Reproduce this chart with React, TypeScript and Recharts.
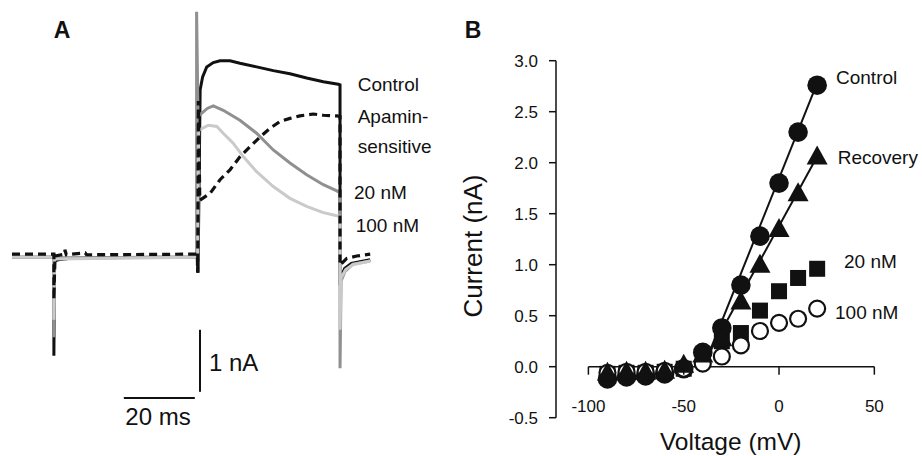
import { LineChart, ComposedChart, Line, Scatter, XAxis, YAxis, ReferenceLine } from "recharts";

const FONT = "'Liberation Sans', Arial, Helvetica, sans-serif";

// ---- Panel A: current traces, [time (ms), current (nA)] ----
const controlTrace: [number, number][] = [
  [0, -0.02], [11.8, -0.02], [11.8, -1.61], [12.0, -0.08], [13, -0.06], [16, -0.04], [25, -0.03],
  [40, -0.02], [52.3, -0.02], [52.4, -0.27], [53.0, 2.68], [53.7, 2.89], [54.85, 3.05], [56.7, 3.12],
  [58.6, 3.15], [61.4, 3.15], [64.2, 3.11], [68.9, 3.05], [73.6, 2.99], [78.3, 2.94], [83.0, 2.87],
  [87.7, 2.81], [91.9, 2.77], [92.4, 2.76], [92.4, -0.47], [92.7, -0.34], [93.7, -0.2], [95.6, -0.12],
  [100.9, -0.06],
];
const trace20nM: [number, number][] = [
  [0, -0.02], [11.8, -0.02], [11.8, -1.31], [12.0, -0.05], [14, -0.03], [52.0, -0.02], [52.0, 3.94],
  [52.4, 2.25], [53.4, 2.3], [55, 2.38], [56.7, 2.42], [59.5, 2.35], [64.2, 2.19], [68.9, 1.98],
  [73.6, 1.71], [78.3, 1.5], [83.0, 1.31], [87.7, 1.15], [91.5, 1.05], [92.4, 1.02], [92.4, -1.81],
  [92.7, -0.4], [93.8, -0.25], [96, -0.13], [100.9, -0.08],
];
const trace100nM: [number, number][] = [
  [0, -0.02], [11.8, -0.02], [11.8, -1.03], [12.0, -0.05], [52.3, -0.02], [52.6, 2.03], [55.3, 2.11],
  [57.7, 2.09], [59.5, 1.98], [62.3, 1.82], [65.2, 1.6], [68.9, 1.36], [73.6, 1.12], [78.3, 0.93],
  [83.0, 0.8], [87.7, 0.7], [91.5, 0.65], [92.4, 0.64], [92.4, -1.19], [92.7, -0.35], [94, -0.22],
  [96, -0.14], [100.9, -0.08],
];
const apaminTrace: [number, number][] = [
  [0, 0.03], [11.8, 0.03], [11.8, -0.7], [12.1, 0.0], [14.9, 0.03], [14.9, 0.1], [15.3, 0.02],
  [20.6, 0.05], [21, 0.02], [52.2, 0.03], [52.3, -0.27], [52.5, 2.5], [52.9, 0.9], [55.8, 1.01],
  [58.6, 1.23], [61.4, 1.39], [64.2, 1.6], [67.0, 1.76], [69.9, 1.92], [72.7, 2.06], [75.5, 2.17],
  [78.3, 2.22], [81.1, 2.26], [84.9, 2.29], [87.7, 2.27], [91.5, 2.26], [92.4, 2.25], [92.4, -0.15],
  [92.9, -0.12], [94.3, -0.04], [97.1, 0.0], [100.9, 0.03],
];

// ---- Panel B: I-V relation ----
const voltages = [-90, -80, -70, -60, -50, -40, -30, -20, -10, 0, 10, 20];
const controlI = [-0.12, -0.1, -0.09, -0.07, -0.02, 0.14, 0.38, 0.8, 1.28, 1.8, 2.3, 2.76];
const recoveryI = [-0.06, -0.05, -0.05, -0.04, 0.02, 0.12, 0.28, 0.64, 1.0, 1.35, 1.7, 2.06];
const apamin20I = [-0.07, -0.06, -0.06, -0.05, -0.02, 0.12, 0.25, 0.33, 0.55, 0.74, 0.87, 0.96];
const apamin100I = [-0.06, -0.05, -0.05, -0.04, -0.02, 0.03, 0.1, 0.21, 0.35, 0.43, 0.47, 0.57];
const controlFit: [number, number][] = [[-37, 0.12], [20, 2.78]];
const recoveryFit: [number, number][] = [[-37, 0.12], [20, 2.06]];
const xTicks = [-100, -50, 0, 50];
const yTicks = [-0.5, 0, 0.5, 1, 1.5, 2, 2.5, 3];

const pts = (arr: [number, number][]) => arr.map(([t, i]) => ({ t, i }));
const iv = (vals: number[]) => voltages.map((v, k) => ({ v, i: vals[k] }));
const fit = (arr: [number, number][]) => arr.map(([v, i]) => ({ v, i }));

// panel B plot geometry
const B_W = 462, B_H = 456, B_TOP = 60.7, B_AXIS_H = 38.3;
const B_BOTTOM = B_H - B_AXIS_H;
const zeroY = B_TOP + (B_BOTTOM - B_TOP) * (3.0 / 3.5);

const XTick = (props: any) => {
  const { x, payload } = props;
  return (
    <g>
      <line x1={x} x2={x} y1={zeroY} y2={zeroY + 8} stroke="#111" strokeWidth={1.5} />
      <text x={x} y={B_BOTTOM - 11} textAnchor="middle" dominantBaseline="central"
        fontSize={17} fontFamily={FONT} fill="#111">{payload.value}</text>
    </g>
  );
};

const FilledCircle = (p: any) => <circle cx={p.cx} cy={p.cy} r={9.8} fill="#111" />;
const OpenCircle = (p: any) => <circle cx={p.cx} cy={p.cy} r={8} fill="#fff" stroke="#111" strokeWidth={2.2} />;
const Square = (p: any) => <rect x={p.cx - 8} y={p.cy - 8} width={16} height={16} fill="#111" />;
const Triangle = (p: any) => (
  <polygon points={`${p.cx},${p.cy - 11} ${p.cx + 10.5},${p.cy + 8} ${p.cx - 10.5},${p.cy + 8}`} fill="#111" />
);

const txt = { fontFamily: FONT, fill: "#111" };

export default function App() {
  return (
    <div style={{ position: "absolute", left: 0, top: 0, width: 922, height: 456, background: "#fff" }}>
      <div style={{ position: "absolute", left: 0, top: 0 }}>
        <LineChart width={400} height={456} margin={{ top: 8, right: 25.9, bottom: 45, left: 12 }}>
          <XAxis type="number" dataKey="t" domain={[0, 102]} hide allowDataOverflow />
          <YAxis type="number" dataKey="i" domain={[-2.5, 4]} hide allowDataOverflow />
          <Line data={pts(controlTrace)} dataKey="i" type="linear" stroke="#111" strokeWidth={3}
            dot={false} isAnimationActive={false} />
          <Line data={pts(trace20nM)} dataKey="i" type="linear" stroke="#909090" strokeWidth={3}
            dot={false} isAnimationActive={false} />
          <Line data={pts(trace100nM)} dataKey="i" type="linear" stroke="#cacaca" strokeWidth={3}
            dot={false} isAnimationActive={false} />
          <Line data={pts(apaminTrace)} dataKey="i" type="linear" stroke="#111" strokeWidth={3.2}
            strokeDasharray="8 5" dot={false} isAnimationActive={false} />
          <ReferenceLine segment={[{ x: 31.5, y: -2.29 }, { x: 51.5, y: -2.29 }]} stroke="#111" strokeWidth={2} ifOverflow="visible" />
          <ReferenceLine segment={[{ x: 52.96, y: -1.19 }, { x: 52.96, y: -2.19 }]} stroke="#111" strokeWidth={2} ifOverflow="visible" />
        </LineChart>
      </div>

      <div style={{ position: "absolute", left: 460, top: 0 }}>
        <ComposedChart width={B_W} height={B_H} margin={{ top: B_TOP, right: 28.6, bottom: 0, left: 0 }}>
          <XAxis type="number" dataKey="v" domain={[-117, 60]} ticks={xTicks} height={B_AXIS_H}
            axisLine={false} tickLine={false} tick={<XTick />} interval={0} allowDataOverflow />
          <YAxis type="number" dataKey="i" domain={[-0.5, 3]} ticks={yTicks} width={96} interval={0}
            tickFormatter={(v: number) => v.toFixed(1)} tickSize={7} tickMargin={11}
            axisLine={{ stroke: "#111", strokeWidth: 1.5 }} tickLine={{ stroke: "#111", strokeWidth: 1.5 }}
            tick={{ fill: "#111", fontSize: 17, fontFamily: FONT }} allowDataOverflow />
          <ReferenceLine segment={[{ x: -100, y: 0 }, { x: 50, y: 0 }]} stroke="#111" strokeWidth={1.5} />
          <Line data={fit(controlFit)} dataKey="i" type="linear" stroke="#111" strokeWidth={2}
            dot={false} isAnimationActive={false} />
          <Line data={fit(recoveryFit)} dataKey="i" type="linear" stroke="#111" strokeWidth={2}
            dot={false} isAnimationActive={false} />
          <Scatter data={iv(controlI)} dataKey="i" shape={FilledCircle} isAnimationActive={false} />
          <Scatter data={iv(apamin20I)} dataKey="i" shape={Square} isAnimationActive={false} />
          <Scatter data={iv(apamin100I)} dataKey="i" shape={OpenCircle} isAnimationActive={false} />
          <Scatter data={iv(recoveryI)} dataKey="i" shape={Triangle} isAnimationActive={false} />
        </ComposedChart>
      </div>

      <svg width={922} height={456} style={{ position: "absolute", left: 0, top: 0, pointerEvents: "none" }}>
        <g {...txt} dominantBaseline="central">
          <text x={62} y={30} fontSize={23} fontWeight="bold" textAnchor="middle">A</text>
          <text x={357.7} y={84.3} fontSize={19}>Control</text>
          <text x={357.7} y={116.7} fontSize={19}>Apamin-</text>
          <text x={357.7} y={146.7} fontSize={19}>sensitive</text>
          <text x={354} y={192.7} fontSize={19}>20 nM</text>
          <text x={355.7} y={225.7} fontSize={19}>100 nM</text>
          <text x={209} y={362} fontSize={24}>1 nA</text>
          <text x={158} y={416} fontSize={24} textAnchor="middle">20 ms</text>

          <text x={473} y={30} fontSize={23} fontWeight="bold" textAnchor="middle">B</text>
          <text x={836} y={77.3} fontSize={19}>Control</text>
          <text x={837.7} y={157.3} fontSize={19}>Recovery</text>
          <text x={844} y={261.7} fontSize={19}>20 nM</text>
          <text x={835} y={312.7} fontSize={19}>100 nM</text>
          <text x={730.7} y={441} fontSize={24.5} textAnchor="middle">Voltage (mV)</text>
          <text x={473} y={246} fontSize={26} textAnchor="middle" transform="rotate(-90 473 246)">Current (nA)</text>
        </g>
      </svg>
    </div>
  );
}
